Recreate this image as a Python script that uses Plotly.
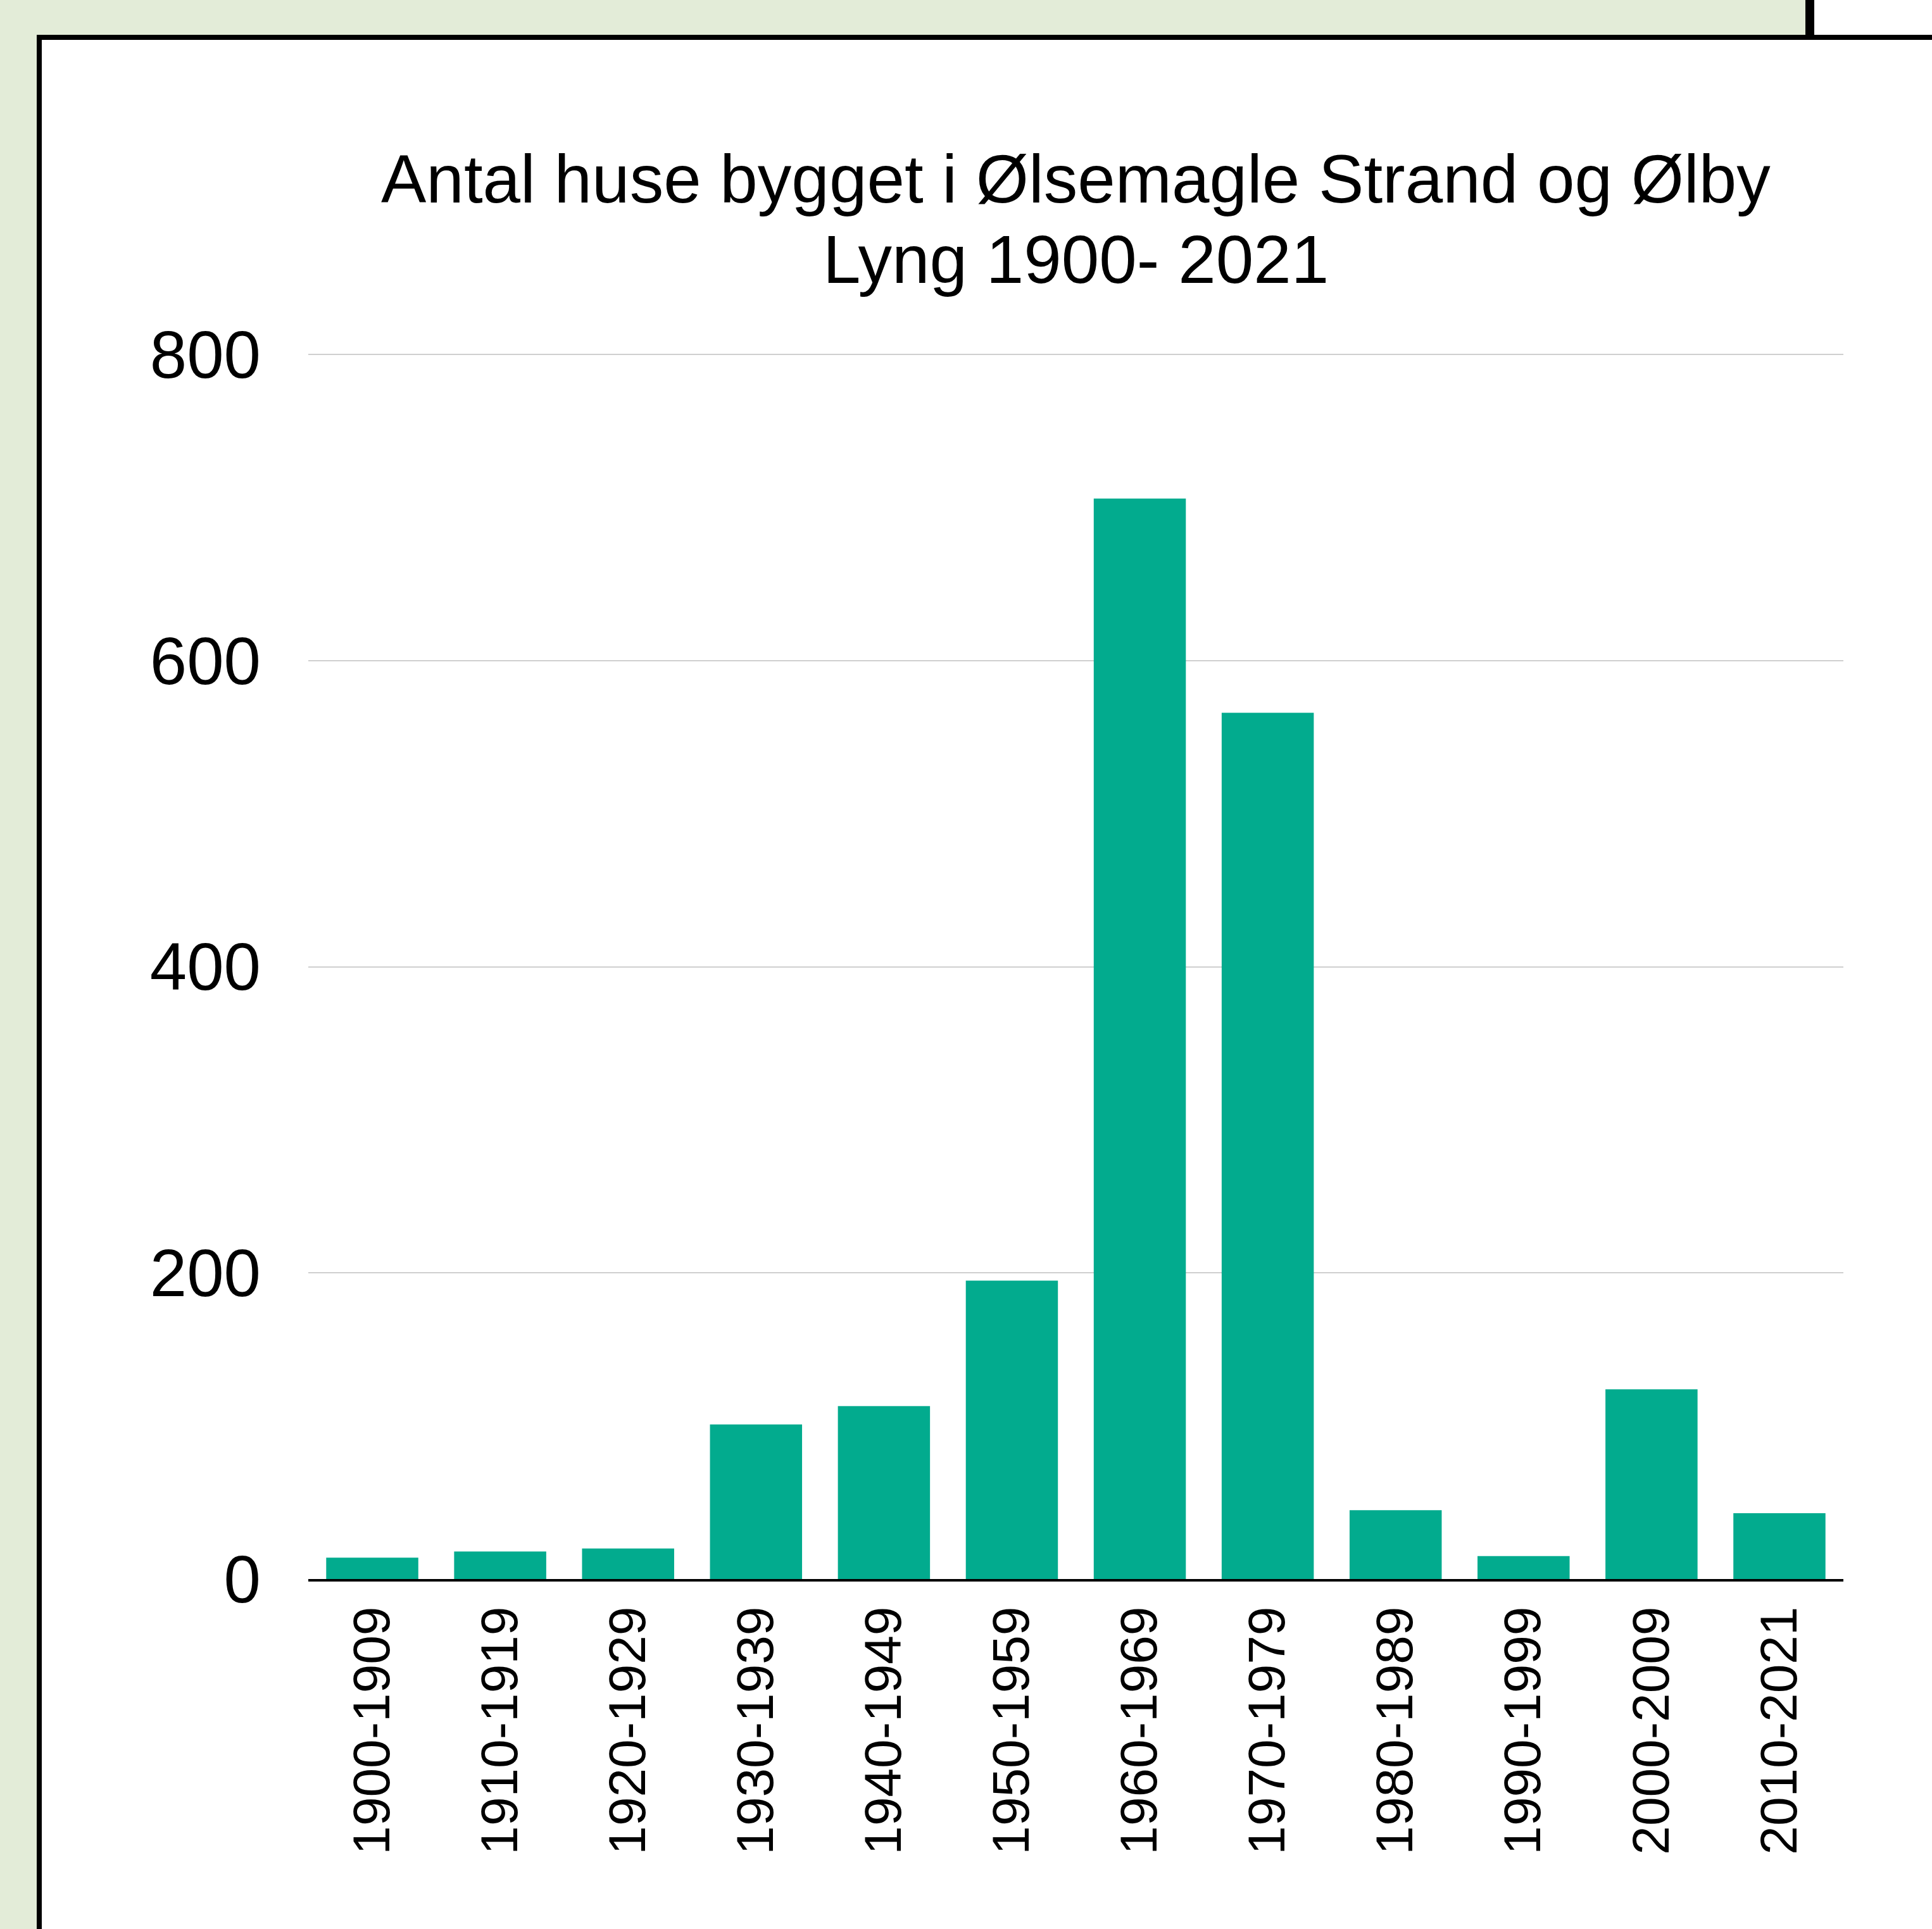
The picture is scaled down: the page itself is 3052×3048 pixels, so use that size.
import plotly.graph_objects as go

# ---- data ----
categories = ["1900-1909", "1910-1919", "1920-1929", "1930-1939", "1940-1949",
              "1950-1959", "1960-1969", "1970-1979", "1980-1989", "1990-1999",
              "2000-2009", "2010-2021"]
houses = [14, 18, 20, 101, 113, 195, 706, 566, 45, 15, 124, 43]
y_ticks = [0, 200, 400, 600, 800]
title_lines = ["Antal huse bygget i Ølsemagle Strand og Ølby", "Lyng 1900- 2021"]

# ---- layout geometry (pixels) ----
W, H = 3052, 3048
ML, MR, MT, MB = 487, 140, 558, 553
PW, PH = W - ML - MR, H - MT - MB


def px(x):
    return (x - ML) / PW


def py(y):
    return (H - MB - y) / PH


FONT = "Liberation Sans, Arial, Helvetica, sans-serif"
GREEN_BG = "#e3ecd8"
BAR = "#02ab8e"

fig = go.Figure()
fig.add_trace(go.Bar(x=categories, y=houses, marker=dict(color=BAR, line=dict(width=0)),
                     hoverinfo="x+y"))

shapes = [
    # white panel with black border
    dict(type="rect", xref="paper", yref="paper", x0=px(62), x1=px(3300), y0=py(59), y1=py(3300),
         fillcolor="white", line=dict(color="black", width=8), layer="below"),
    # top-right white patch
    dict(type="rect", xref="paper", yref="paper", x0=px(2859), x1=px(3300), y0=py(-60), y1=py(55),
         fillcolor="white", line=dict(width=0), layer="below"),
    # top-right vertical black line
    dict(type="line", xref="paper", yref="paper", x0=px(2859), x1=px(2859), y0=py(-60), y1=py(59),
         line=dict(color="black", width=14), layer="below"),
]

annotations = [
    dict(text=title_lines[0], xref="paper", yref="paper", x=0.5, y=py(283),
         xanchor="center", yanchor="middle", showarrow=False,
         font=dict(family=FONT, size=107, color="black")),
    dict(text=title_lines[1], xref="paper", yref="paper", x=0.5, y=py(410),
         xanchor="center", yanchor="middle", showarrow=False,
         font=dict(family=FONT, size=107, color="black")),
]

fig.update_layout(
    width=W, height=H,
    margin=dict(l=ML, r=MR, t=MT, b=MB, autoexpand=False),
    paper_bgcolor=GREEN_BG,
    plot_bgcolor="rgba(0,0,0,0)",
    bargap=0.28,
    showlegend=False,
    shapes=shapes,
    annotations=annotations,
    font=dict(family=FONT, color="black"),
    xaxis=dict(type="category", tickangle=-90, tickfont=dict(size=82, color="black", family=FONT),
               showline=True, linecolor="black", linewidth=3.5, showgrid=False,
               ticks="", ticklabelstandoff=7, fixedrange=True),
    yaxis=dict(range=[0, 801], tickvals=y_ticks, ticktext=[str(v) for v in y_ticks],
               tickfont=dict(size=105, color="black", family=FONT),
               showgrid=True, gridcolor="#cfcfcf", gridwidth=1.5, zeroline=False,
               showline=False, ticks="", ticklabelstandoff=74, fixedrange=True),
)

fig.write_html("out.html", config={"displayModeBar": False},
               post_script="document.body.style.margin='0';")
